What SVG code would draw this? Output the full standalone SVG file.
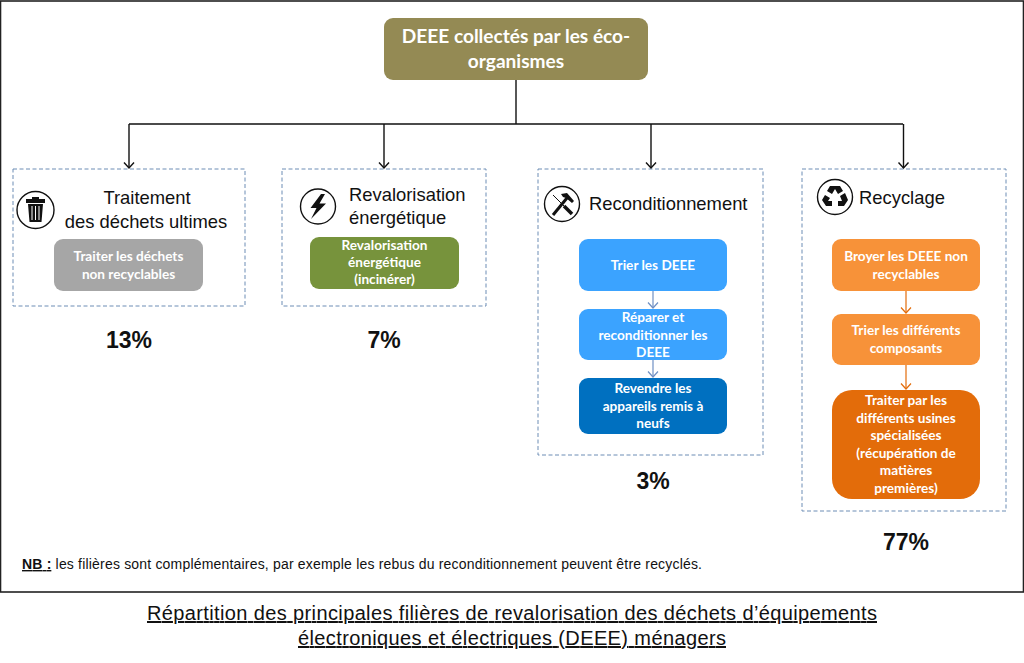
<svg xmlns="http://www.w3.org/2000/svg" width="1024" height="663" viewBox="0 0 1024 663">
<style>
.h{font:18.4px "Liberation Sans",Arial,sans-serif;fill:#111}
.b{font:bold 13.6px Lato,"Open Sans",sans-serif;fill:#fff;text-anchor:middle}
.r{font:bold 19.1px Lato,"Open Sans",sans-serif;fill:#fff;text-anchor:middle}
.pct{font:bold 23px "Liberation Sans",Arial,sans-serif;fill:#111;text-anchor:middle}
.dash{fill:#fff;stroke:#6d8db5;stroke-width:1;stroke-dasharray:4 2.5}
.conn{fill:none;stroke:#111;stroke-width:1.4}
.ic{fill:#fff;stroke:#111;stroke-width:1.4}
.cap{font:20px "Liberation Sans",Arial,sans-serif;fill:#111;text-anchor:middle;text-decoration:underline}
</style>
<defs>
<marker id="ak" markerWidth="14" markerHeight="14" refX="6.5" refY="6" orient="auto" markerUnits="userSpaceOnUse"><path d="M1 1L6.5 6L1 11" fill="none" stroke="#111" stroke-width="1.4"/></marker>
<marker id="ab" markerWidth="14" markerHeight="14" refX="6.5" refY="6" orient="auto" markerUnits="userSpaceOnUse"><path d="M1 1L6.5 6L1 11" fill="none" stroke="#6f90c4" stroke-width="1.2"/></marker>
<marker id="ao" markerWidth="14" markerHeight="14" refX="6.5" refY="6" orient="auto" markerUnits="userSpaceOnUse"><path d="M1 1L6.5 6L1 11" fill="none" stroke="#e36c0a" stroke-width="1.2"/></marker>
</defs>
<rect id="frame" x="0.5" y="1" width="1023" height="591" fill="#fff" stroke="#222" stroke-width="1.6"/>

<g id="root"><rect x="384" y="18" width="264" height="62" rx="9" fill="#948a54"/>
<text class="r" x="516" y="43">DEEE collectés par les éco-</text>
<text class="r" x="516" y="68">organismes</text></g>

<g id="panel-traitement"><rect class="dash" x="13" y="169" width="232" height="137"/>
<circle class="ic" cx="35.500" cy="210" r="18.500"/>
<path d="M26 199H45V203H26ZM32 199V197H39V199ZM28 204H43L41.500 222H29.500Z" fill="#111"/>
<path d="M32 206V220M35.500 206V220M39 206V220" stroke="#fff" stroke-width="1"/>
<text class="h" x="147" y="204" text-anchor="middle">Traitement</text>
<text class="h" x="146" y="228" text-anchor="middle">des déchets ultimes</text></g>
<g id="n-traiter"><rect x="54" y="239" width="149" height="52" rx="9" fill="#a6a6a6"/>
<text class="b" x="128.500" y="261">Traiter les déchets</text><text class="b" x="128.500" y="279">non recyclables</text></g>
<text class="pct" x="129" y="348">13%</text>

<g id="panel-revalorisation"><rect class="dash" x="282" y="169" width="204" height="137"/>
<circle class="ic" cx="318" cy="206.500" r="17.500"/>
<path d="M321 194L310.500 208H316.500L311 219L326 203.500H319.500L325 194Z" fill="#111"/>
<text class="h" x="349" y="201">Revalorisation</text>
<text class="h" x="349" y="224">énergétique</text></g>
<g id="n-revalorisation"><rect x="310" y="237" width="149" height="52" rx="9" fill="#77933c"/>
<text class="b" x="384.500" y="250">Revalorisation</text><text class="b" x="384.500" y="267">énergétique</text><text class="b" x="384.500" y="284">(incinérer)</text></g>
<text class="pct" x="384" y="348">7%</text>

<g id="panel-reconditionnement"><rect class="dash" x="538" y="169" width="225" height="286"/>
<circle class="ic" cx="562" cy="204" r="17.500"/>
<path d="M553 195L565 207" stroke="#111" stroke-width="1"/>
<path d="M564 206L572 214" stroke="#111" stroke-width="3.500"/>
<path d="M567 198L553 215" stroke="#111" stroke-width="3"/>
<path d="M561 194L567 193L574 201L572 203L566 198L563 197Z" fill="#111"/>
<text class="h" x="589" y="210">Reconditionnement</text></g>
<g id="n-trier"><rect x="579" y="239" width="148" height="52" rx="9" fill="#3ba3ff"/>
<text class="b" x="653" y="270">Trier les DEEE</text></g>
<g id="n-reparer"><rect x="579" y="309" width="148" height="51" rx="9" fill="#3ba3ff"/>
<text class="b" x="653" y="322">Réparer et</text><text class="b" x="653" y="340">reconditionner les</text><text class="b" x="653" y="357">DEEE</text></g>
<g id="n-revendre"><rect x="579" y="378" width="148" height="56" rx="9" fill="#0070c0"/>
<text class="b" x="653" y="393">Revendre les</text><text class="b" x="653" y="411">appareils remis à</text><text class="b" x="653" y="428">neufs</text></g>
<text class="pct" x="653" y="489">3%</text>

<g id="panel-recyclage"><rect class="dash" x="802" y="169" width="204" height="342"/>
<circle class="ic" cx="835" cy="197" r="17.500"/>
<path d="M830 186H840L843 191L838 194L835 189L832 194L827 191ZM845 193L848 200L844 206H838V201H842L840 196ZM825 195L830 198L828 201H832V206H826L822 200Z" fill="#111"/>
<text class="h" x="859" y="204">Recyclage</text></g>
<g id="n-broyer"><rect x="832" y="239" width="148" height="52" rx="9" fill="#f79239"/>
<text class="b" x="906" y="261">Broyer les DEEE non</text><text class="b" x="906" y="279">recyclables</text></g>
<g id="n-composants"><rect x="832" y="314" width="148" height="51" rx="9" fill="#f79239"/>
<text class="b" x="906" y="335">Trier les différents</text><text class="b" x="906" y="353">composants</text></g>
<g id="n-usines"><rect x="832" y="390" width="148" height="109" rx="20" fill="#e36c0a"/>
<text class="b" x="906" y="405">Traiter par les</text><text class="b" x="906" y="423">différents usines</text><text class="b" x="906" y="440">spécialisées</text><text class="b" x="906" y="458">(récupération de</text><text class="b" x="906" y="475">matières</text><text class="b" x="906" y="493">premières)</text></g>
<text class="pct" x="906" y="550">77%</text>

<g id="connectors">
<path class="conn" d="M516 80V124M129 124H903"/>
<path class="conn" marker-end="url(#ak)" d="M129 124V168"/>
<path class="conn" marker-end="url(#ak)" d="M384 124V168"/>
<path class="conn" marker-end="url(#ak)" d="M651 124V168"/>
<path class="conn" marker-end="url(#ak)" d="M903.500 124V168"/>
<path fill="none" stroke="#6f90c4" stroke-width="1.200" marker-end="url(#ab)" d="M653 291V308"/>
<path fill="none" stroke="#6f90c4" stroke-width="1.200" marker-end="url(#ab)" d="M653 360V377"/>
<path fill="none" stroke="#e36c0a" stroke-width="1.200" marker-end="url(#ao)" d="M906 291V313"/>
<path fill="none" stroke="#e36c0a" stroke-width="1.200" marker-end="url(#ao)" d="M906 365V389"/>
</g>

<text id="nb" x="22" y="569" style="font:14px 'Liberation Sans',Arial,sans-serif;fill:#111" textLength="680" lengthAdjust="spacing"><tspan font-weight="bold" text-decoration="underline">NB :</tspan> les filières sont complémentaires, par exemple les rebus du reconditionnement peuvent être recyclés.</text>
<text class="cap" x="512" y="620" textLength="730" lengthAdjust="spacing">Répartition des principales filières de revalorisation des déchets d’équipements</text>
<text class="cap" x="512" y="645" textLength="428" lengthAdjust="spacing">électroniques et électriques (DEEE) ménagers</text>
</svg>
